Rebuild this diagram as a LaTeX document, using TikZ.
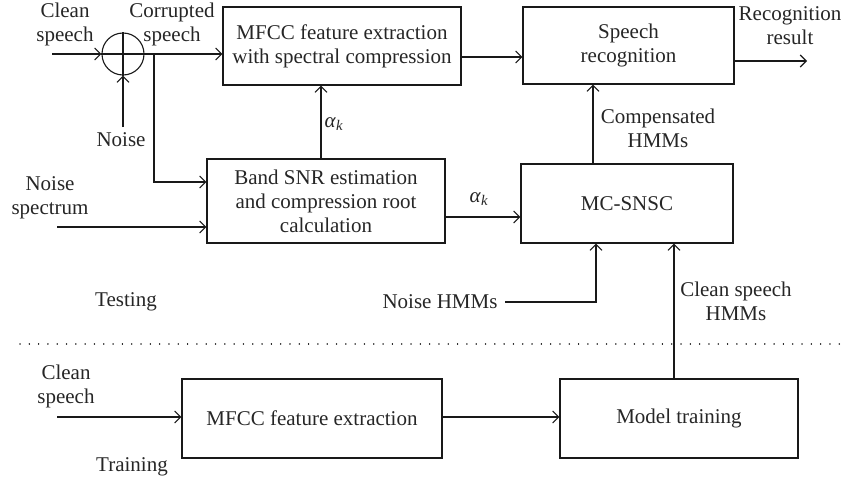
\documentclass[tikz,border=0pt]{standalone}
\usepackage{fontspec}
\setmainfont{Liberation Serif}
\usetikzlibrary{arrows.meta,positioning}

\tikzset{
  every node/.style={font=\fontsize{21}{24}\selectfont, text=black!85},
  block/.style={draw=black!90, line width=1.1pt, rectangle, inner sep=0pt, align=center},
  lbl/.style={align=center, inner sep=0pt},
  conn/.style={draw=black!90, line width=1.1pt},
  arr/.style={conn, -{Straight Barb[length=6pt,width=12pt,line width=1.1pt]}},
}
\newcommand{\alphak}{\textit{α}\textsubscript{\textit{k}}}

\begin{document}
\begin{tikzpicture}[x=1pt, y=-1pt]
  \useasboundingbox (0,0) rectangle (847,479);

  % ---------- testing part ----------
  \node[draw=black!90, line width=1.1pt, circle, minimum size=42pt, inner sep=0pt] (sum) at (123,54) {};
  \draw[conn] (sum.north) -- (sum.south);
  \draw[conn] (sum.west) -- (sum.east);

  \node[block, minimum width=238pt, minimum height=78pt] (mfcc) at (342,46)
    {MFCC feature extraction\\with spectral compression};
  \node[block, minimum width=211pt, minimum height=77pt] (sr) at (628.5,45.5)
    {Speech\\recognition};
  \node[block, minimum width=238pt, minimum height=84pt] (band) at (326,201)
    {Band SNR estimation\\and compression root\\calculation};
  \node[block, minimum width=212pt, minimum height=79pt] (mc) at (627,203.5) {MC-SNSC};

  % inputs and labels
  \node[lbl] (lcs) at (65,24) {Clean\\speech};
  \node[lbl] (lcor) at (172,24) {Corrupted\\speech};
  \node[lbl] (lnoise) at (121,140) {Noise};
  \node[lbl] (lnspec) at (50,198) {Noise\\spectrum};
  \node[lbl] (lrec) at (790,26) {Recognition\\result};
  \node[lbl] (lcomp) at (658,128) {Compensated\\HMMs};
  \node[lbl] (lnh) at (440,302) {Noise HMMs};
  \node[lbl] (lcsh) at (736,301) {Clean speech\\HMMs};
  \node[lbl] (ltest) at (126,302) {Testing};
  \node[lbl] (la1) at (334,124) {\alphak};
  \node[lbl] (la2) at (479,199) {\alphak};

  \coordinate (csin) at (52,54);
  \coordinate (nzin) at (123,127);
  \coordinate (br) at (154,54);
  \coordinate (nsin) at (57,227);
  \coordinate (recout) at (807,61);

  \draw[arr] (csin) -- (sum.west);
  \draw[arr] (nzin) -- (sum.south);
  \draw[arr] (sum.east) -- (sum.east -| mfcc.west);
  \draw[arr] (br) |- (band.west |- 0,182);
  \draw[arr] (nsin) -- (band.west |- nsin);
  \draw[arr] (band.north -| 321,0) -- (mfcc.south -| 321,0);
  \draw[arr] (band.east |- 0,217) -- (mc.west |- 0,217);
  \draw[arr] (mfcc.east |- 0,57) -- (sr.west |- 0,57);
  \draw[arr] (sr.east |- recout) -- (recout);
  \draw[arr] (mc.north -| 593,0) -- (sr.south -| 593,0);
  \draw[arr] (505,302) -| (mc.south -| 596,0);

  % separator
  \draw[black!90, line width=1.5pt, dash pattern=on 0.01pt off 9.3pt, line cap=round] (20,344) -- (847,344);

  % ---------- training part ----------
  \node[block, minimum width=260pt, minimum height=79pt] (mfcc2) at (312,418.5) {MFCC feature extraction};
  \node[block, minimum width=238pt, minimum height=79pt] (mt) at (679,418.5) {Model training};
  \node[lbl] (lcs2) at (66,386) {Clean\\speech};
  \node[lbl] (ltrain) at (132,467) {Training};

  \coordinate (cs2in) at (57,417);
  \draw[arr] (cs2in) -- (mfcc2.west |- cs2in);
  \draw[arr] (mfcc2.east |- 0,417) -- (mt.west |- 0,417);
  \draw[arr] (mt.north -| 674,0) -- (mc.south -| 674,0);
\end{tikzpicture}
\end{document}
